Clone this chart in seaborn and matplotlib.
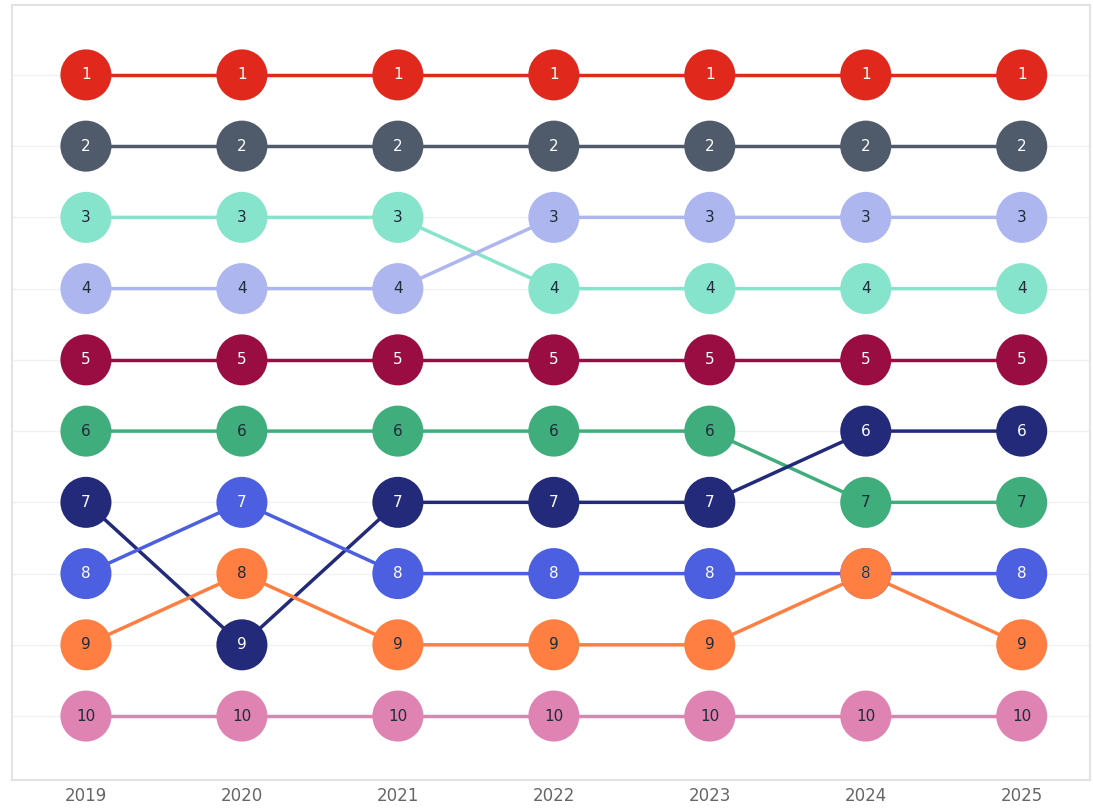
import pandas as pd
import numpy as np
import seaborn as sns
import matplotlib
matplotlib.use("Agg")
import matplotlib.pyplot as plt

years = [2019, 2020, 2021, 2022, 2023, 2024, 2025]

# rank of each series per year
red = [1, 1, 1, 1, 1, 1, 1]
slate = [2, 2, 2, 2, 2, 2, 2]
aqua = [3, 3, 3, 4, 4, 4, 4]
lavender = [4, 4, 4, 3, 3, 3, 3]
crimson = [5, 5, 5, 5, 5, 5, 5]
green = [6, 6, 6, 6, 6, 7, 7]
navy = [7, 9, 7, 7, 7, 6, 6]
blue = [8, 7, 8, 8, 8, 8, 8]
orange = [9, 8, 9, 9, 9, 8, 9]
pink = [10, 10, 10, 10, 10, 10, 10]

series = {"red": red, "slate": slate, "aqua": aqua, "lavender": lavender,
          "crimson": crimson, "green": green, "navy": navy, "blue": blue,
          "orange": orange, "pink": pink}

palette = {"red": "#e1281c", "slate": "#4f5a6b", "aqua": "#86e3cc",
           "lavender": "#adb6ef", "crimson": "#990d42", "green": "#3fad7c",
           "navy": "#222a79", "blue": "#4b5fe0", "orange": "#ff7e42",
           "pink": "#df84b2"}
text_color = {"red": "white", "slate": "white", "aqua": "#1f2a3a",
              "lavender": "#1f2a3a", "crimson": "white", "green": "#1f2a3a",
              "navy": "white", "blue": "white", "orange": "#1f2a3a",
              "pink": "#1f2a3a"}

rows = []
for name, ranks in series.items():
    for y, r in zip(years, ranks):
        rows.append({"series": name, "year": y, "rank": r})
df = pd.DataFrame(rows)

sns.set_style("white")
fig = plt.figure(figsize=(10.93, 8.11), dpi=100)
ax = fig.add_axes([0.011, 0.038, 0.986, 0.956])

for r in range(1, 11):
    ax.axhline(r, color="#f1f1f1", lw=1, zorder=0)

sns.lineplot(data=df, x="year", y="rank", hue="series", palette=palette,
             linewidth=2.5, legend=False, ax=ax, zorder=2)
sns.scatterplot(data=df, x="year", y="rank", hue="series", palette=palette,
                s=1350, linewidth=0, legend=False, ax=ax, zorder=3)

for _, row in df.iterrows():
    ax.text(row["year"], row["rank"], str(row["rank"]), ha="center",
            va="center", fontsize=11, color=text_color[row["series"]],
            zorder=4)

ax.set_xlim(2019 - 0.474, 2025 + 0.436)
ax.set_ylim(10.9, 0.017)
ax.set_xticks(years)
ax.set_xticklabels([str(y) for y in years], fontsize=12, color="#666666")
ax.set_yticks([])
ax.set_xlabel("")
ax.set_ylabel("")
ax.tick_params(axis="x", length=0, pad=5)
for s in ax.spines.values():
    s.set_color("#e3e3e3")
    s.set_linewidth(1.5)

fig.savefig("out.png", dpi=100)
